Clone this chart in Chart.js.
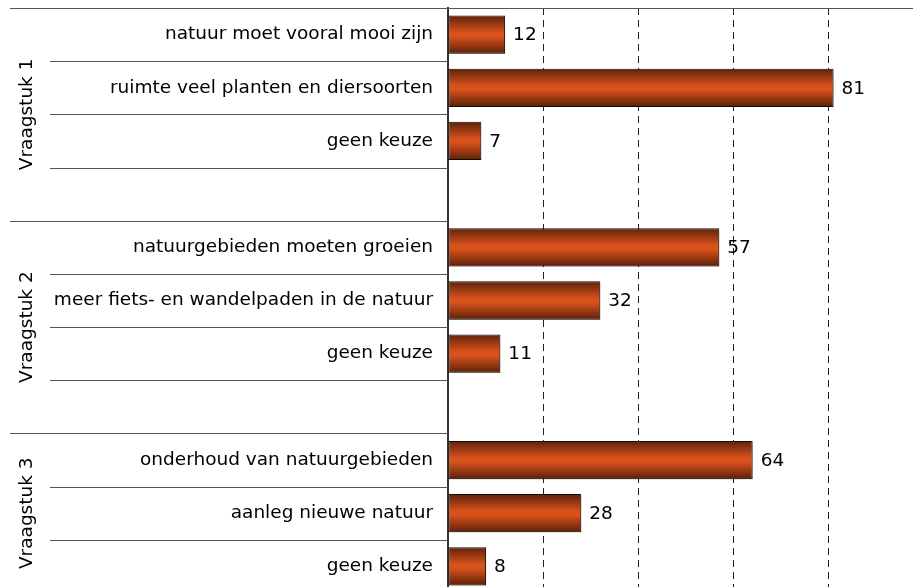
<!DOCTYPE html>
<html>
<head>
<meta charset="utf-8">
<script src="https://cdn.jsdelivr.net/npm/chart.js@4/dist/chart.umd.min.js"></script>
<style>
  html, body { margin: 0; padding: 0; background: #fff; overflow: hidden; }
</style>
</head>
<body>
<canvas id="chartBar" width="930" height="594"></canvas>
<script>
// data
const categories = [
  'natuur moet vooral mooi zijn',
  'ruimte veel planten en diersoorten',
  'geen keuze',
  '',
  'natuurgebieden moeten groeien',
  'meer fiets- en wandelpaden in de natuur',
  'geen keuze',
  '',
  'onderhoud van natuurgebieden',
  'aanleg nieuwe natuur',
  'geen keuze'
];
const values = [12, 81, 7, null, 57, 32, 11, null, 64, 28, 8];
const groupLabels = ['Vraagstuk 1', 'Vraagstuk 2', 'Vraagstuk 3'];
const groupStart = [0, 4, 8];
const groupRows = [4, 4, 3];

const FONT = 'DejaVu Sans';
const FONT_SIZE = 18.5;
const BAR_PCT = 0.72;

// per bar cylinder gradient
function barFill(c) {
  const chart = c.chart;
  const y = chart.scales.y;
  if (!chart.chartArea || !y || c.dataIndex === undefined) return '#d4501c';
  const cy = y.getPixelForValue(c.dataIndex);
  const h = (y.getPixelForValue(1) - y.getPixelForValue(0)) * BAR_PCT / 2;
  const g = chart.ctx.createLinearGradient(0, cy - h, 0, cy + h);
  g.addColorStop(0, '#5e220a');
  g.addColorStop(0.45, '#d9521c');
  g.addColorStop(0.55, '#d9521c');
  g.addColorStop(1, '#5a2008');
  return g;
}

// lines, group labels, value labels
const decor = {
  id: 'decor',
  beforeDatasetsDraw(chart) {
    const ctx = chart.ctx;
    ctx.save();
    ctx.shadowColor = 'rgba(0,0,0,0.25)';
    ctx.shadowOffsetX = 2;
    ctx.shadowOffsetY = 2;
    ctx.shadowBlur = 2;
  },
  afterDatasetsDraw(chart) {
    const ctx = chart.ctx;
    ctx.restore();
    const y = chart.scales.y;
    const x = chart.scales.x;
    const area = chart.chartArea;
    const step = y.getPixelForValue(1) - y.getPixelForValue(0);

    ctx.save();
    ctx.strokeStyle = '#555';
    ctx.lineWidth = 1;
    // top line
    ctx.beginPath();
    ctx.moveTo(10, Math.round(area.top) + 0.5);
    ctx.lineTo(chart.width, Math.round(area.top) + 0.5);
    ctx.stroke();
    // row separators
    for (let i = 1; i < categories.length; i++) {
      const py = Math.round(y.getPixelForValue(i) - step / 2) + 0.5;
      const startX = groupStart.includes(i) ? 10 : 50;
      ctx.beginPath();
      ctx.moveTo(startX, py);
      ctx.lineTo(area.left, py);
      ctx.stroke();
    }

    // group labels
    ctx.fillStyle = '#000';
    ctx.font = FONT_SIZE + 'px "' + FONT + '"';
    ctx.textAlign = 'center';
    ctx.textBaseline = 'middle';
    groupLabels.forEach((lab, k) => {
      const top = y.getPixelForValue(groupStart[k]) - step / 2;
      const cy = top + groupRows[k] * step / 2;
      ctx.save();
      ctx.translate(27, cy);
      ctx.rotate(-Math.PI / 2);
      ctx.fillText(lab, 0, 0);
      ctx.restore();
    });

    // value labels
    ctx.textAlign = 'left';
    values.forEach((v, i) => {
      if (v === null) return;
      ctx.fillText(String(v), x.getPixelForValue(v) + 8, y.getPixelForValue(i) + 1);
    });
    ctx.restore();
  }
};

const chartBar = new Chart(document.getElementById('chartBar'), {
  type: 'bar',
  data: {
    labels: categories,
    datasets: [{
      data: values,
      backgroundColor: barFill,
      borderColor: '#1a0a04',
      borderWidth: 1,
      borderSkipped: false,
      categoryPercentage: 1,
      barPercentage: BAR_PCT
    }]
  },
  options: {
    indexAxis: 'y',
    responsive: false,
    animation: false,
    devicePixelRatio: 1,
    layout: { padding: { top: 8, right: 6, bottom: 1, left: 0 } },
    plugins: {
      legend: { display: false },
      tooltip: { enabled: false }
    },
    scales: {
      x: {
        min: 0,
        max: 100,
        ticks: { display: false, stepSize: 20 },
        grid: {
          drawTicks: false,
          color: (c) => (c.tick && c.tick.value === 0 ? 'rgba(0,0,0,0)' : '#222'),
          lineWidth: 1
        },
        border: { display: false, dash: [7, 5] },
        afterFit(scale) {
          scale.height = 0;
          scale.paddingLeft = 0;
          scale.paddingRight = 0;
        }
      },
      y: {
        ticks: {
          padding: 15,
          color: '#000',
          font: { family: FONT, size: FONT_SIZE }
        },
        grid: { display: false, drawTicks: false },
        border: { display: true, color: '#333', width: 2 },
        afterFit(scale) {
          scale.width = 448;
          scale.paddingTop = 0;
          scale.paddingBottom = 0;
        }
      }
    }
  },
  plugins: [decor]
});
</script>
</body>
</html>
